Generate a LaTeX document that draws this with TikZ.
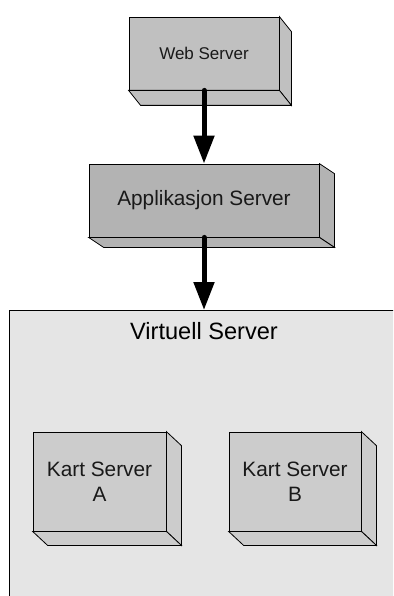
\documentclass[tikz,border=0pt]{standalone}
\usepackage{fontspec}
\setmainfont{Liberation Sans}
\usetikzlibrary{arrows.meta}

\definecolor{webgray}{HTML}{C0C0C0}
\definecolor{appgray}{HTML}{B3B3B3}
\definecolor{kartgray}{HTML}{CCCCCC}
\definecolor{virtbg}{HTML}{E5E5E5}

\tikzset{
  front/.style={draw=black, line width=0.8pt, inner sep=0pt, align=center, text=black!90},
  face/.style={draw=black, line width=0.8pt, line join=miter},
  flow/.style={line width=5pt, line cap=round, -{Triangle[width=20pt,length=28pt]}},
  webfont/.style={font=\fontsize{17}{20}\selectfont},
  boxfont/.style={font=\fontsize{20.8}{25}\selectfont},
  titlefont/.style={font=\fontsize{23.6}{28}\selectfont},
}

% draws the right and bottom depth faces of a box node
\newcommand\boxdepth[4]{% node, fill colour, dx, dy
  \filldraw[face, fill=#2] (#1.north east) -- ++(#3,#4) -- ($(#1.south east)+(#3,#4)$) -- (#1.south east) -- cycle;
  \filldraw[face, fill=#2] (#1.south west) -- (#1.south east) -- ++(#3,#4) -- ($(#1.south west)+(#3,#4)$) -- cycle;
}
\usetikzlibrary{calc}

\begin{document}
\begin{tikzpicture}[x=1pt, y=-1pt]
  \useasboundingbox (0,0) rectangle (393,596);
  \clip (0,0) rectangle (393,596);
  \fill[white] (0,0) rectangle (393,596);

  % virtual server container, running off the right and bottom edges
  \filldraw[fill=virtbg, draw=black, line width=0.8pt] (9,310) rectangle (420,620);
  \node[titlefont, anchor=base] (virt) at (204,339) {Virtuell Server};

  % web server
  \node[front, fill=webgray, webfont, minimum width=150pt, minimum height=73pt] (web) at (204,53.5) {Web Server};
  \boxdepth{web}{webgray}{12}{15}

  % application server
  \node[front, fill=appgray, boxfont, minimum width=230pt, minimum height=73pt] (app) at (204,200.5) {Applikasjon Server};
  \boxdepth{app}{appgray}{15}{10}

  % map servers
  \node[front, fill=kartgray, boxfont, minimum width=133pt, minimum height=99pt] (karta) at (99.5,481.5) {Kart Server\\A};
  \boxdepth{karta}{kartgray}{15}{14}
  \node[front, fill=kartgray, boxfont, minimum width=132pt, minimum height=99pt] (kartb) at (295,481.5) {Kart Server\\B};
  \boxdepth{kartb}{kartgray}{15}{14}

  % request flow
  \coordinate (virttop) at (204,310);
  \draw[flow] (web.south) -- (app.north);
  \draw[flow] (app.south) -- (virttop);
\end{tikzpicture}
\end{document}
